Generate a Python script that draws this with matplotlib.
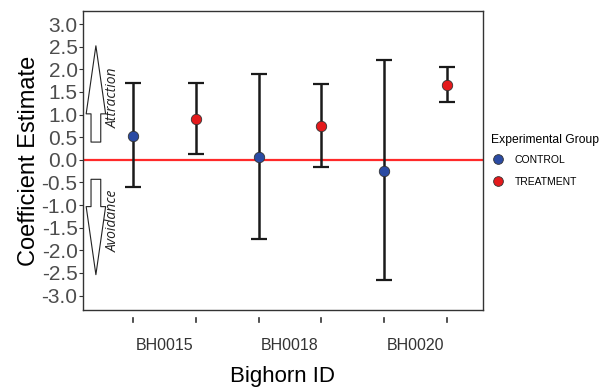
import matplotlib
matplotlib.use("Agg")
import matplotlib.pyplot as plt
import matplotlib.transforms as mtransforms
from matplotlib.lines import Line2D
import numpy as np

plt.rcParams['font.family'] = ['Liberation Sans', 'DejaVu Sans']

bighorn_ids = ["BH0015", "BH0018", "BH0020"]
groups = ["CONTROL", "TREATMENT", "CONTROL", "TREATMENT", "CONTROL", "TREATMENT"]
estimates = [0.52, 0.90, 0.07, 0.75, -0.24, 1.65]
upper = [1.70, 1.70, 1.89, 1.67, 2.21, 2.04]
lower = [-0.61, 0.13, -1.76, -0.16, -2.66, 1.28]
group_colors = {"CONTROL": "#2B4BA3", "TREATMENT": "#E41A1C"}
yticks = np.arange(-3.0, 3.01, 0.5)

fig = plt.figure(figsize=(6.02, 3.89), dpi=100)
ax = fig.add_axes([0.138, 0.203, 0.664, 0.769])

xs = np.arange(1, len(estimates) + 1)
ax.axhline(0, color="#FF2A2A", lw=1.6, zorder=1)
for x, e, u, l, g in zip(xs, estimates, upper, lower, groups):
    ax.errorbar([x], [e], yerr=[[e - l], [u - e]], fmt='none', ecolor='#1a1a1a',
                elinewidth=1.8, capsize=5.5, capthick=1.6, zorder=2)
    ax.plot([x], [e], 'o', ms=7.5, mfc=group_colors[g], mec='#333333', mew=0.6, zorder=3)

ax.set_xlim(0.206, 6.57)
ax.set_ylim(-3.32, 3.29)
ax.set_yticks(yticks)
ax.set_yticklabels([f"{v:.1f}" for v in yticks], fontsize=15, color='#4D4D4D')
ax.tick_params(axis='y', length=3, width=0.8, color='#333333', pad=1)
ax.set_xticks([])
for s in ax.spines.values():
    s.set_color('#333333')
    s.set_linewidth(1.0)

# detached tick marks below the axis
trans = mtransforms.blended_transform_factory(ax.transData, ax.transAxes)
for x in xs:
    ax.plot([x, x], [-0.027, -0.040], color='#333333', lw=1.2, transform=trans, clip_on=False)
# group labels centered between pairs
for i, lab in enumerate(bighorn_ids):
    ax.text(xs[2 * i] + 0.5, -0.12, lab, transform=trans, ha='center', va='center',
            fontsize=11.5, color='#333333')

ax.set_xlabel("Bighorn ID", fontsize=16, labelpad=40)
ax.set_ylabel("Coefficient Estimate", fontsize=17, labelpad=1)

# hollow arrows
style = "simple,head_length=3.5,head_width=1.0,tail_width=0.5"
ax.annotate("", xy=(0.41, 2.58), xytext=(0.41, 0.33),
            arrowprops=dict(arrowstyle=style, fc='white', ec='#222222', lw=0.8, mutation_scale=14))
ax.annotate("", xy=(0.41, -2.6), xytext=(0.41, -0.37),
            arrowprops=dict(arrowstyle=style, fc='white', ec='#222222', lw=0.8, mutation_scale=14))
ax.text(0.68, 1.38, "Attraction", rotation=90, style='italic', fontsize=10,
        ha='center', va='center', color='#222222', family=['Open Sans', 'DejaVu Sans'])
ax.text(0.68, -1.35, "Avoidance", rotation=90, style='italic', fontsize=10,
        ha='center', va='center', color='#222222', family=['Open Sans', 'DejaVu Sans'])

# legend
handles = [Line2D([], [], marker='o', ls='none', ms=7, mfc=group_colors[g], mec='#333333', mew=0.6)
           for g in ["CONTROL", "TREATMENT"]]
leg = fig.legend(handles, ["CONTROL", "TREATMENT"], title="Experimental Group",
                 loc='upper left', bbox_to_anchor=(0.808, 0.665), frameon=False,
                 fontsize=7.5, title_fontsize=8.7, handletextpad=0.9, handlelength=1.4,
                 labelspacing=1.15, borderaxespad=0)
leg._legend_box.align = "left"
leg._legend_box.sep = 6

fig.savefig("out.png", dpi=100)
